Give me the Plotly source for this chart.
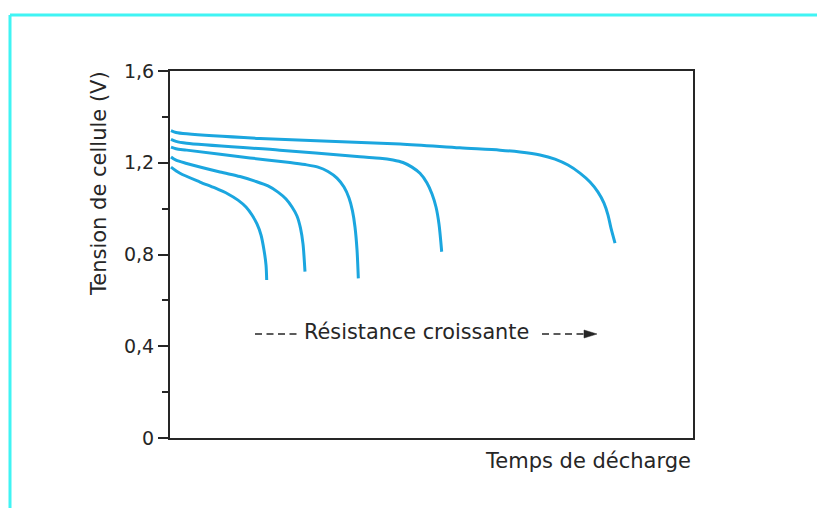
import plotly.graph_objects as go

# ---- data (time in arbitrary units 0..100, voltage in V) ----
c1_t = [0.19, 1.15, 3.19, 17.2, 44.0, 55.4, 63.10, 66.92, 70.75, 73.61, 76.10, 78.39, 80.31, 81.84, 82.98, 83.75, 84.32, 85.09]
c1_v = [1.340, 1.332, 1.326, 1.306, 1.282, 1.265, 1.255, 1.247, 1.234, 1.216, 1.190, 1.155, 1.116, 1.072, 1.024, 0.972, 0.915, 0.850]

c2_t = [0.19, 1.15, 3.19, 21.0, 36.33, 40.15, 42.64, 44.55, 46.27, 47.80, 49.14, 50.10, 50.86, 51.43, 51.95]
c2_v = [1.302, 1.293, 1.285, 1.255, 1.226, 1.220, 1.212, 1.201, 1.181, 1.154, 1.112, 1.064, 1.007, 0.933, 0.812]

c3_t = [0.19, 1.15, 3.19, 15.30, 22.94, 25.81, 28.30, 30.21, 31.93, 33.27, 34.23, 34.89, 35.37, 35.76, 36.01]
c3_v = [1.268, 1.261, 1.255, 1.221, 1.201, 1.192, 1.181, 1.162, 1.133, 1.094, 1.046, 0.990, 0.920, 0.820, 0.696]

c4_t = [0.19, 1.15, 3.19, 9.56, 13.38, 16.25, 18.74, 20.65, 22.18, 23.33, 24.28, 24.95, 25.43, 25.81]
c4_v = [1.225, 1.211, 1.197, 1.160, 1.140, 1.120, 1.099, 1.072, 1.042, 1.007, 0.968, 0.915, 0.846, 0.725]

c5_t = [0.19, 1.91, 5.74, 8.60, 11.09, 13.00, 14.53, 15.68, 16.63, 17.40, 17.97, 18.36, 18.49]
c5_v = [1.181, 1.154, 1.116, 1.090, 1.064, 1.037, 1.007, 0.972, 0.933, 0.885, 0.820, 0.754, 0.689]

y_tickvals = [0, 0.4, 0.8, 1.2, 1.6]
y_ticktext = ["0", "0,4", "0,8", "1,2", "1,6"]
y_minor = [0.2, 0.6, 1.0, 1.4]

x_title = "Temps de décharge"
y_title = "Tension de cellule (V)"
note = "Résistance croissante"

# ---- layout geometry ----
W, H = 817, 508
L, R, T, B = 170, 124, 71, 70
PW, PH = W - L - R, H - T - B
FONT = "DejaVu Sans"
TXT = "#262626"
BLUE = "#1ba6df"


def px(xp):
    return (xp - L) / PW


def py(yp):
    return (H - B - yp) / PH


fig = go.Figure()
for t, v in [(c1_t, c1_v), (c2_t, c2_v), (c3_t, c3_v), (c4_t, c4_v), (c5_t, c5_v)]:
    fig.add_trace(go.Scatter(x=t, y=v, mode="lines",
                             line=dict(color=BLUE, width=3, shape="spline", smoothing=0.8),
                             showlegend=False, hoverinfo="skip"))

shapes = [
    # cyan frame
    dict(type="line", xref="paper", yref="paper", x0=px(10), x1=px(817), y0=py(15), y1=py(15),
         line=dict(color="#40f4f4", width=3)),
    dict(type="line", xref="paper", yref="paper", x0=px(10), x1=px(10), y0=py(15), y1=py(508),
         line=dict(color="#40f4f4", width=3)),
    # dashed arrow
    dict(type="line", xref="paper", yref="paper", x0=px(255), x1=px(297), y0=py(334), y1=py(334),
         line=dict(color=TXT, width=1.6, dash="7px,4.5px")),
    dict(type="line", xref="paper", yref="paper", x0=px(542), x1=px(584), y0=py(334), y1=py(334),
         line=dict(color=TXT, width=1.6, dash="7px,4.5px")),
    dict(type="path", xref="paper", yref="paper",
         path=f"M {px(584)},{py(330)} L {px(597)},{py(334)} L {px(584)},{py(338)} Z",
         fillcolor=TXT, line=dict(color=TXT, width=0.5)),
]

annotations = [
    dict(text=y_title, xref="paper", yref="paper", x=px(99), y=py(184), xanchor="center",
         yanchor="middle", textangle=-90, showarrow=False, font=dict(family=FONT, size=21, color=TXT)),
    dict(text=x_title, xref="paper", yref="paper", x=1.0, y=py(461), xanchor="right",
         yanchor="middle", showarrow=False, font=dict(family=FONT, size=21, color=TXT)),
    dict(text=note, xref="paper", yref="paper", x=px(416), y=py(332), xanchor="center",
         yanchor="middle", showarrow=False, font=dict(family=FONT, size=20.8, color=TXT)),
]

fig.update_layout(
    width=W, height=H,
    margin=dict(l=L, r=R, t=T, b=B, pad=0),
    paper_bgcolor="white", plot_bgcolor="white",
    font=dict(family=FONT, color=TXT),
    shapes=shapes, annotations=annotations,
    xaxis=dict(range=[0, 100], showline=True, mirror=True, linecolor=TXT, linewidth=2,
               ticks="", showticklabels=False, showgrid=False, zeroline=False, fixedrange=True),
    yaxis=dict(range=[0, 1.6], tickvals=y_tickvals, ticktext=y_ticktext, ticks="outside",
               ticklen=10, tickwidth=1.5, tickcolor=TXT, tickfont=dict(family=FONT, size=19, color=TXT),
               minor=dict(tickvals=y_minor, ticks="outside", ticklen=6, tickwidth=1.5, tickcolor=TXT),
               showline=True, mirror=True, linecolor=TXT, linewidth=2,
               showgrid=False, zeroline=False, fixedrange=True),
)

fig.write_html("out.html")
